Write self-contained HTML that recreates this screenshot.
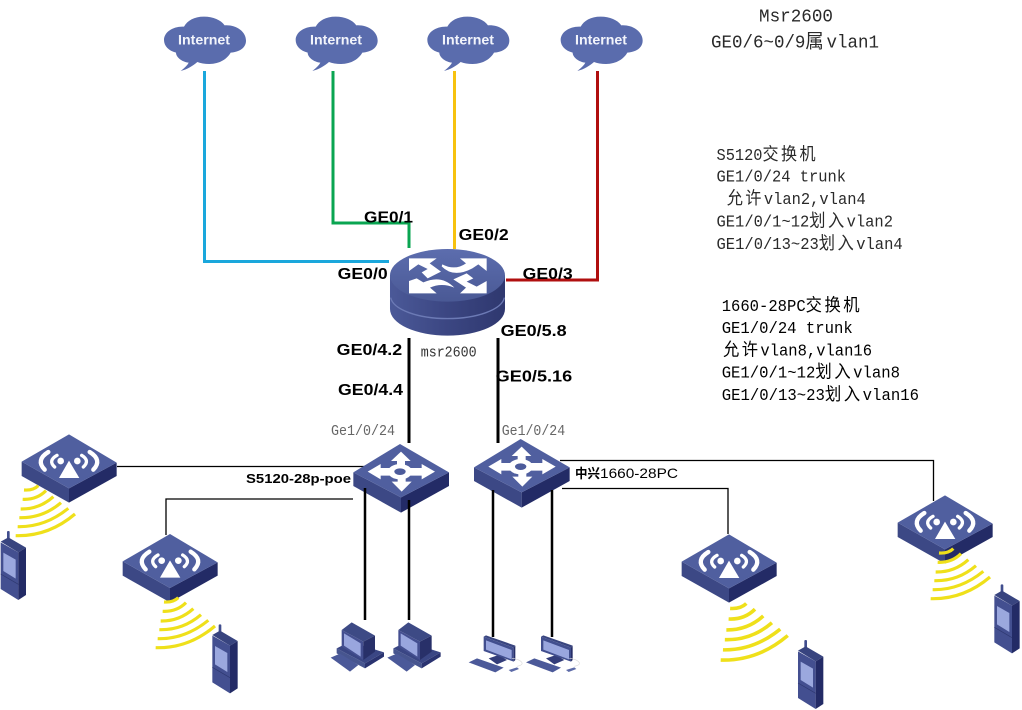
<!DOCTYPE html>
<html lang="zh">
<head>
<meta charset="utf-8">
<title>Network diagram</title>
<style>
html,body{margin:0;padding:0;background:#fff;width:1022px;height:710px;overflow:hidden}
svg{display:block}
.m{font-family:"Liberation Mono","Noto Sans CJK SC",monospace;font-size:17px;fill:#2a2a2a}
.t{font-size:18.5px}
.d{fill:#000}
.c{font-size:1.05em;letter-spacing:.15em;font-family:"Noto Sans CJK SC","WenQuanYi Zen Hei",sans-serif}
.b{font-family:"Liberation Sans",Arial,sans-serif;font-weight:bold;font-size:16px;fill:#000}
.g{font-family:"Liberation Mono",monospace;font-size:15px;fill:#666}
.s{font-family:"Liberation Sans","Noto Sans CJK SC",sans-serif;font-size:13px;fill:#000}
.i{font-family:"Liberation Sans",Arial,sans-serif;font-weight:bold;font-size:13.500px;fill:#f2f4fb}
</style>
</head>
<body>
<svg width="1022" height="710" viewBox="0 0 1022 710" xmlns="http://www.w3.org/2000/svg">
<defs>
<linearGradient id="rt" x1="0" y1="0" x2="0" y2="1"><stop offset="0" stop-color="#5c6dae"/><stop offset="1" stop-color="#4a5995"/></linearGradient>
<linearGradient id="rs" x1="0" y1="0" x2="1" y2="0"><stop offset="0" stop-color="#4b5998"/><stop offset=".5" stop-color="#3b4682"/><stop offset="1" stop-color="#2f386f"/></linearGradient>
<g id="cloud"><path fill="#5a6cad" d="M122 213C135 203 142 196 146 188C126 186 108 172 108 158C86 152 72 138 72 120C72 96 100 78 132 80C142 62 162 50 192 50C220 50 242 60 254 76C288 74 318 94 318 122C318 144 298 156 272 158C262 176 240 192 208 192C194 192 182 190 172 186C158 198 142 208 122 213Z"/></g>
<g id="ap">
<polygon fill="#232b66" points="207,205 350,128 350,168 207,248"/>
<polygon fill="#3c4885" points="65,125 207,205 207,248 65,168"/>
<polygon fill="#505f9f" points="207,43 350,128 207,205 65,125"/>
<g fill="none" stroke="#fff" stroke-linecap="round">
<path stroke-width="13" d="M145 96Q106 120 134 149"/><path stroke-width="10" d="M171 106Q143 122 164 141"/>
<path stroke-width="13" d="M269 96Q308 120 280 149"/><path stroke-width="10" d="M245 106Q271 122 250 141"/>
</g>
<circle cx="182" cy="123" r="10" fill="#fff"/><circle cx="232" cy="123" r="10" fill="#fff"/>
<polygon fill="#fff" points="207,122 238,174 177,174"/>
</g>
<g id="arcs" fill="none" stroke="#efe01a" stroke-width="9.500">
<path d="M72 210Q100 212 115 197"/>
<path d="M68 238Q110 240 138 212"/>
<path d="M62 267Q118 268 160 230"/>
<path d="M58 293Q128 295 183 248"/>
<path d="M53 320Q135 322 205 265"/>
<path d="M47 347Q145 350 225 282"/>
</g>
<g id="phone">
<rect x="21" y="333" width="8" height="30" rx="3" fill="#414e8e"/>
<polygon fill="#38447f" points="2,365 25,352 78,383 55,397"/>
<polygon fill="#434f90" points="2,367 55,397 55,540 2,507"/>
<polygon fill="#232b66" points="55,397 78,383 78,525 55,540"/>
<polygon fill="#9ba8de" points="10,398 47,419 47,476 10,453"/>
<path d="M2 462L55 493" stroke="#2e3870" stroke-width="2"/>
</g>
<g id="sw">
<polygon fill="#232b66" points="153,172 297,97 297,138 153,218"/>
<polygon fill="#3c4885" points="10,97 153,172 153,218 10,138"/>
<polygon fill="#505f9f" points="150,12 297,97 153,172 10,97"/>
<g fill="#fff">
<path d="M153 35L182 63L165 63L165 85L141 85L141 63L123 63Z"/>
<path d="M155 155L185 125L167 125L167 105L143 105L143 125L125 125Z"/>
<path d="M53 95L92 72L92 84L125 84L125 107L92 107L92 118Z"/>
<path d="M255 95L215 72L215 84L175 84L175 107L215 107L215 118Z"/>
<ellipse cx="150" cy="95" rx="36" ry="23"/>
</g>
<ellipse cx="150" cy="95" rx="17" ry="10" fill="#4c5b9b"/>
</g>
<g id="pc">
<polygon fill="#47558f" points="20,100 105,145 105,160 20,115"/>
<polygon fill="#2a3370" points="105,145 162,112 162,125 105,160"/>
<polygon fill="#3a4684" points="20,100 60,80 162,112 105,145"/>
<polygon fill="#4b5999" points="2,128 30,116 85,150 60,170"/>
<polygon fill="#3d4a85" points="35,45 65,22 135,62 100,80"/>
<polygon fill="#444f90" points="35,45 100,80 100,135 35,95"/>
<polygon fill="#283069" points="100,80 135,62 135,110 100,135"/>
<polygon fill="#99a6de" points="42,55 92,85 92,125 42,92"/>
</g>
<g id="lcd">
<polygon fill="#333d7a" points="80,100 110,90 135,105 105,118"/>
<polygon fill="#39457f" points="65,35 72,31 160,62 155,68"/>
<polygon fill="#414e8e" points="65,35 155,68 155,110 65,78"/>
<polygon fill="#262e68" points="155,68 160,62 160,105 155,110"/>
<polygon fill="#99a6de" points="72,46 149,75 149,103 72,74"/>
<polygon fill="#4b5999" points="20,112 45,100 125,128 100,142"/>
<polygon fill="#5d6ba8" points="140,135 165,127 171,132 148,141"/>
<path d="M165 124Q192 118 172 106Q165 102 150 100" fill="none" stroke="#ddd" stroke-width="2"/>
</g>
</defs>

<rect width="1022" height="710" fill="#fff"/>

<!-- clouds -->
<g transform="translate(140,0) scale(.33333)">
<use href="#cloud"/>
<use href="#cloud" x="395"/>
<use href="#cloud" x="790"/>
<use href="#cloud" x="1190"/>
</g>
<text class="i" x="178" y="44.300" textLength="52" lengthAdjust="spacingAndGlyphs">Internet</text>
<text class="i" x="310" y="44.300" textLength="52" lengthAdjust="spacingAndGlyphs">Internet</text>
<text class="i" x="442" y="44.300" textLength="52" lengthAdjust="spacingAndGlyphs">Internet</text>
<text class="i" x="575" y="44.300" textLength="52" lengthAdjust="spacingAndGlyphs">Internet</text>

<!-- uplinks -->
<g fill="none" stroke-width="3">
<path stroke="#1aa7dc" d="M204.500 71V261.500H389"/>
<path stroke="#0aa551" d="M333 71V223H409V248"/>
<path stroke="#f7c20f" d="M454.500 71V249"/>
<path stroke="#b00f0f" d="M597.500 71V280H506"/>
</g>

<!-- router -->
<g transform="translate(385,245) scale(.33333)">
<path fill="url(#rs)" d="M15 90V192A172.500 80 0 0 0 360 192V90Z"/>
<path fill="none" stroke="#6c7ab5" stroke-width="4" d="M17 158A171 68 0 0 0 358 158"/>
<ellipse cx="187.500" cy="91" rx="172.500" ry="79" fill="url(#rt)"/>
<g fill="#fff">
<path d="M72 40H155L134 55L168 80L128 100L110 82L128 72L100 58L72 78Z"/>
<path d="M305 40H225L243 55Q210 78 172 58L170 64Q205 100 262 70L280 58L305 78Z"/>
<path d="M72 145H155L135 128Q170 112 208 128Q170 88 115 112L95 100L72 108Z"/>
<path d="M305 145H225L243 128L205 103L245 85L265 100L245 110L275 125L305 108Z"/>
</g>
</g>

<!-- black links -->
<g stroke="#000" fill="none">
<path stroke-width="3" d="M409 338V443M498 338V443"/>
<path stroke-width="1.300" d="M117 466.500H370M166 535V499H353M560 460.500H933.500V501M562 488.500H728V534"/>
</g>

<!-- access points -->
<g transform="translate(0,420) scale(.33333)">
<use href="#phone"/>
<use href="#phone" x="635" y="280"/>
<use href="#ap"/>
<use href="#arcs"/>
<use href="#ap" x="303" y="299"/>
<use href="#arcs" x="420" y="336"/>
</g>
<g transform="translate(660,420) scale(.33333)">
<use href="#ap" y="300"/>
<g transform="translate(129,328) scale(1.130)"><use href="#arcs"/></g>
<use href="#phone" x="412" y="327"/>
<use href="#ap" x="648" y="183"/>
<use href="#arcs" x="765" y="189"/>
<use href="#phone" x="1001" y="160"/>
</g>

<!-- switches -->
<g transform="translate(350,440) scale(.33333)">
<use href="#sw"/>
<use href="#sw" x="362" y="-15"/>
</g>
<!-- hosts -->
<g transform="translate(330,615) scale(.33333)">
<use href="#pc"/>
<use href="#pc" x="170"/>
</g>
<g transform="translate(462,625) scale(.33333)">
<use href="#lcd"/>
<use href="#lcd" x="172"/>
</g>
<g stroke="#000" fill="none" stroke-width="2.500">
<path d="M365 488V620M409 500V620M493 490V637M552 490V637"/>
</g>

<!-- port labels -->
<text class="b" x="364" y="222.700" textLength="49" lengthAdjust="spacingAndGlyphs">GE0/1</text>
<text class="b" x="458.700" y="240" textLength="50" lengthAdjust="spacingAndGlyphs">GE0/2</text>
<text class="b" x="337.700" y="279" textLength="50" lengthAdjust="spacingAndGlyphs">GE0/0</text>
<text class="b" x="522.700" y="279" textLength="50" lengthAdjust="spacingAndGlyphs">GE0/3</text>
<text class="b" x="500.700" y="336" textLength="66" lengthAdjust="spacingAndGlyphs">GE0/5.8</text>
<text class="b" x="336.700" y="355" textLength="65.500" lengthAdjust="spacingAndGlyphs">GE0/4.2</text>
<text class="b" x="338" y="395" textLength="65" lengthAdjust="spacingAndGlyphs">GE0/4.4</text>
<text class="b" x="495.700" y="381.700" textLength="76.500" lengthAdjust="spacingAndGlyphs">GE0/5.16</text>
<text class="g" style="fill:#333" x="420.700" y="356.700" textLength="56" lengthAdjust="spacingAndGlyphs">msr2600</text>
<text class="g" x="331" y="435" textLength="64" lengthAdjust="spacingAndGlyphs">Ge1/0/24</text>
<text class="g" x="501.700" y="435" textLength="63.500" lengthAdjust="spacingAndGlyphs">Ge1/0/24</text>
<text class="s" x="246" y="483" textLength="105" lengthAdjust="spacingAndGlyphs" style="font-weight:bold">S5120-28p-poe</text>
<text class="s" x="575" y="478" textLength="25" lengthAdjust="spacingAndGlyphs" style="font-weight:bold">中兴</text>
<text class="s" x="600" y="478" textLength="78" lengthAdjust="spacingAndGlyphs" style="font-size:14px">1660-28PC</text>

<!-- notes -->
<text class="m t" x="759" y="21.500" textLength="74" lengthAdjust="spacingAndGlyphs">Msr2600</text>
<text class="m t" x="711" y="47.700" textLength="168" lengthAdjust="spacingAndGlyphs">GE0/6~0/9<tspan class="c">属</tspan>vlan1</text>

<text class="m" x="716.500" y="160" textLength="101.500" lengthAdjust="spacingAndGlyphs">S5120<tspan class="c">交换机</tspan></text>
<text class="m" x="716.500" y="181.700" textLength="129.500" lengthAdjust="spacingAndGlyphs">GE1/0/24 trunk</text>
<text class="m" x="726.700" y="204" textLength="139" lengthAdjust="spacingAndGlyphs"><tspan class="c">允许</tspan>vlan2,vlan4</text>
<text class="m" x="716.500" y="226.700" textLength="176.500" lengthAdjust="spacingAndGlyphs">GE1/0/1~12<tspan class="c">划入</tspan>vlan2</text>
<text class="m" x="716.500" y="249" textLength="186.200" lengthAdjust="spacingAndGlyphs">GE1/0/13~23<tspan class="c">划入</tspan>vlan4</text>

<text class="m d" x="721.700" y="311" textLength="140.300" lengthAdjust="spacingAndGlyphs">1660-28PC<tspan class="c">交换机</tspan></text>
<text class="m d" x="721.700" y="333" textLength="131" lengthAdjust="spacingAndGlyphs">GE1/0/24 trunk</text>
<text class="m d" x="723" y="355.700" textLength="149" lengthAdjust="spacingAndGlyphs"><tspan class="c">允许</tspan>vlan8,vlan16</text>
<text class="m d" x="721.700" y="377.700" textLength="178.300" lengthAdjust="spacingAndGlyphs">GE1/0/1~12<tspan class="c">划入</tspan>vlan8</text>
<text class="m d" x="721.700" y="400" textLength="197.300" lengthAdjust="spacingAndGlyphs">GE1/0/13~23<tspan class="c">划入</tspan>vlan16</text>
</svg>
</body>
</html>
